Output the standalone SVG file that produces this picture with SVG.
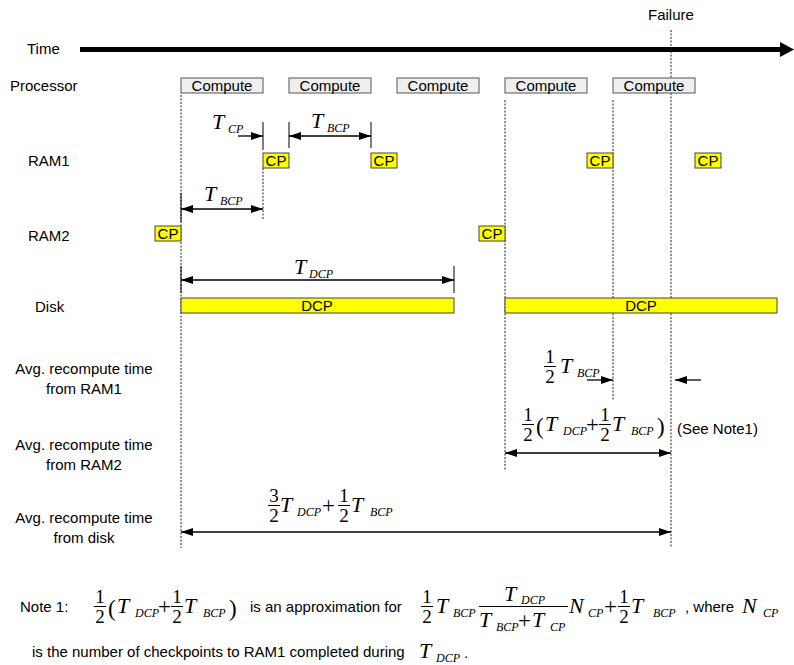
<svg xmlns="http://www.w3.org/2000/svg" width="794" height="665" viewBox="0 0 794 665">
<defs>
<style>
.lbl{font-family:"Liberation Sans",Arial,sans-serif;font-size:15px;fill:#000}
.c{text-anchor:middle}
.m{font-family:"Liberation Serif","Times New Roman",serif;fill:#000}
.T{font-style:italic;font-size:22px}
.s{font-style:italic;font-size:12px}
.d{font-size:19px;text-anchor:middle}
.op{font-size:23px}
.par{font-size:23px}
.fb{stroke:#000;stroke-width:1}
.dash{stroke:#222;stroke-width:1;stroke-dasharray:2 1.5;fill:none}
.tick{stroke:#000;stroke-width:1;fill:none}
.arr{stroke:#000;stroke-width:1.3;fill:none}
.cmp{fill:#efefef;stroke:#555;stroke-width:1}
.y{fill:#ffff00;stroke:#444;stroke-width:1}
</style>
<marker id="ah" viewBox="0 0 12 8" refX="12" refY="4" markerWidth="12" markerHeight="8" markerUnits="userSpaceOnUse" orient="auto-start-reverse">
<path d="M0,0 L12,4 L0,8 z" fill="#000"/>
</marker>
</defs>
<rect width="794" height="665" fill="#fff"/>

<!-- Row labels -->
<g id="labels">
<text class="lbl" x="27" y="54" font-size="16">Time</text>
<text class="lbl" x="648" y="20">Failure</text>
<text class="lbl" x="10" y="91">Processor</text>
<text class="lbl" x="28" y="166">RAM1</text>
<text class="lbl" x="28" y="241">RAM2</text>
<text class="lbl" x="35" y="312">Disk</text>
<text class="lbl c" x="84" y="374">Avg. recompute time</text>
<text class="lbl c" x="84" y="394">from RAM1</text>
<text class="lbl c" x="84" y="450">Avg. recompute time</text>
<text class="lbl c" x="84" y="470">from RAM2</text>
<text class="lbl c" x="84" y="523">Avg. recompute time</text>
<text class="lbl c" x="84" y="543">from disk</text>
</g>

<!-- Connectors -->
<g id="connectors">
<line x1="80" y1="49.5" x2="782" y2="49.5" stroke="#000" stroke-width="5"/>
<polygon points="780,42 794,49.5 780,57" fill="#000"/>
<line class="dash" x1="181" y1="95" x2="181" y2="548"/>
<line class="dash" x1="263" y1="168" x2="263" y2="220"/>
<line class="dash" x1="505" y1="100" x2="505" y2="470"/>
<line class="dash" x1="613" y1="100" x2="613" y2="400"/>
<line class="dash" x1="671" y1="30" x2="671" y2="548"/>
<line class="tick" x1="263" y1="122" x2="263" y2="150"/>
<line class="tick" x1="289" y1="122" x2="289" y2="148"/>
<line class="tick" x1="371" y1="122" x2="371" y2="148"/>
<line class="tick" x1="181" y1="193" x2="181" y2="222"/>
<line class="tick" x1="181" y1="266" x2="181" y2="293"/>
<line class="tick" x1="454" y1="266" x2="454" y2="293"/>
<line class="arr" x1="238" y1="136" x2="263" y2="136" marker-end="url(#ah)"/>
<line class="arr" x1="289" y1="136" x2="371" y2="136" marker-start="url(#ah)" marker-end="url(#ah)"/>
<line class="arr" x1="181" y1="209" x2="263" y2="209" marker-start="url(#ah)" marker-end="url(#ah)"/>
<line class="arr" x1="181" y1="280" x2="454" y2="280" marker-start="url(#ah)" marker-end="url(#ah)"/>
<line class="arr" x1="587" y1="380" x2="613" y2="380" marker-end="url(#ah)"/>
<line class="arr" x1="701" y1="380" x2="675" y2="380" marker-end="url(#ah)"/>
<line class="arr" x1="505" y1="453" x2="671" y2="453" marker-start="url(#ah)" marker-end="url(#ah)"/>
<line class="arr" x1="181" y1="532" x2="671" y2="532" marker-start="url(#ah)" marker-end="url(#ah)"/>
</g>

<!-- Processor compute blocks -->
<g id="compute1"><rect class="cmp" x="181" y="78" width="82" height="15"/><text class="lbl c" x="222" y="91">Compute</text></g>
<g id="compute2"><rect class="cmp" x="289" y="78" width="82" height="15"/><text class="lbl c" x="330" y="91">Compute</text></g>
<g id="compute3"><rect class="cmp" x="397" y="78" width="82" height="15"/><text class="lbl c" x="438" y="91">Compute</text></g>
<g id="compute4"><rect class="cmp" x="505" y="78" width="82" height="15"/><text class="lbl c" x="546" y="91">Compute</text></g>
<g id="compute5"><rect class="cmp" x="613" y="78" width="82" height="15"/><text class="lbl c" x="654" y="91">Compute</text></g>

<!-- RAM1 checkpoints -->
<g id="ram1cp1"><rect class="y" x="263" y="153" width="26" height="15"/><text class="lbl c" x="276" y="166">CP</text></g>
<g id="ram1cp2"><rect class="y" x="371" y="153" width="26" height="15"/><text class="lbl c" x="384" y="166">CP</text></g>
<g id="ram1cp3"><rect class="y" x="587" y="153" width="26" height="15"/><text class="lbl c" x="600" y="166">CP</text></g>
<g id="ram1cp4"><rect class="y" x="695" y="153" width="26" height="15"/><text class="lbl c" x="708" y="166">CP</text></g>

<!-- RAM2 checkpoints -->
<g id="ram2cp1"><rect class="y" x="155" y="226" width="26" height="15"/><text class="lbl c" x="168" y="239">CP</text></g>
<g id="ram2cp2"><rect class="y" x="479" y="226" width="26" height="15"/><text class="lbl c" x="492" y="239">CP</text></g>

<!-- Disk checkpoints -->
<g id="dcp1"><rect class="y" x="181" y="298" width="273" height="15"/><text class="lbl c" x="317" y="311">DCP</text></g>
<g id="dcp2"><rect class="y" x="505" y="298" width="272" height="15"/><text class="lbl c" x="641" y="311">DCP</text></g>

<!-- Interval labels -->
<g id="label-tcp"><text class="m T" x="212" y="129">T</text><text class="m s" x="228" y="133">CP</text></g>
<g id="label-tbcp1"><text class="m T" x="311" y="128">T</text><text class="m s" x="327" y="132">BCP</text></g>
<g id="label-tbcp2"><text class="m T" x="204" y="201">T</text><text class="m s" x="220" y="205">BCP</text></g>
<g id="label-tdcp"><text class="m T" x="294" y="274">T</text><text class="m s" x="309" y="278">DCP</text></g>

<!-- Recompute formulas -->
<g id="f-ram1">
<text class="m d" x="550" y="363">1</text><line class="fb" x1="544" y1="366.5" x2="556" y2="366.5"/><text class="m d" x="550" y="382.5">2</text>
<text class="m T" x="560" y="373">T</text><text class="m s" x="577" y="377">BCP</text>
</g>
<g id="f-ram2">
<text class="m d" x="528" y="421">1</text><line class="fb" x1="522" y1="424.5" x2="534" y2="424.5"/><text class="m d" x="528" y="440.5">2</text>
<text class="m par" x="536" y="434">(</text>
<text class="m T" x="545" y="431">T</text><text class="m s" x="563" y="435">DCP</text>
<text class="m op" x="586" y="432">+</text>
<text class="m d" x="605" y="421">1</text><line class="fb" x1="599" y1="424.5" x2="611" y2="424.5"/><text class="m d" x="605" y="440.5">2</text>
<text class="m T" x="612" y="431">T</text><text class="m s" x="631" y="435">BCP</text>
<text class="m par" x="657" y="434">)</text>
<text class="lbl" x="677" y="434">(See Note1)</text>
</g>
<g id="f-disk">
<text class="m d" x="274" y="502">3</text><line class="fb" x1="268" y1="505.5" x2="280" y2="505.5"/><text class="m d" x="274" y="521.5">2</text>
<text class="m T" x="280" y="512">T</text><text class="m s" x="297" y="516">DCP</text>
<text class="m op" x="322" y="513">+</text>
<text class="m d" x="344" y="502">1</text><line class="fb" x1="338" y1="505.5" x2="350" y2="505.5"/><text class="m d" x="344" y="521.5">2</text>
<text class="m T" x="351" y="512">T</text><text class="m s" x="370" y="516">BCP</text>
</g>

<!-- Note -->
<g id="note">
<text class="lbl" x="20" y="612">Note 1:</text>
<text class="m d" x="100" y="603">1</text><line class="fb" x1="94" y1="606.5" x2="106" y2="606.5"/><text class="m d" x="100" y="622.5">2</text>
<text class="m par" x="108" y="616">(</text>
<text class="m T" x="117" y="613">T</text><text class="m s" x="135" y="617">DCP</text>
<text class="m op" x="158" y="614">+</text>
<text class="m d" x="177" y="603">1</text><line class="fb" x1="171" y1="606.5" x2="183" y2="606.5"/><text class="m d" x="177" y="622.5">2</text>
<text class="m T" x="184" y="613">T</text><text class="m s" x="203" y="617">BCP</text>
<text class="m par" x="229" y="616">)</text>
<text class="lbl" x="250" y="612">is an approximation for</text>
<text class="m d" x="427" y="603">1</text><line class="fb" x1="421" y1="606.5" x2="433" y2="606.5"/><text class="m d" x="427" y="622.5">2</text>
<text class="m T" x="436" y="613">T</text><text class="m s" x="453" y="617">BCP</text>
<text class="m T" x="504" y="601">T</text><text class="m s" x="521" y="604">DCP</text>
<line class="fb" x1="479" y1="606.5" x2="568" y2="606.5"/>
<text class="m T" x="479" y="627">T</text><text class="m s" x="496" y="631">BCP</text>
<text class="m op" x="518" y="628">+</text>
<text class="m T" x="532" y="627">T</text><text class="m s" x="550" y="631">CP</text>
<text class="m T" x="569" y="613">N</text><text class="m s" x="588" y="617">CP</text>
<text class="m op" x="604" y="614">+</text>
<text class="m d" x="624" y="603">1</text><line class="fb" x1="618" y1="606.5" x2="630" y2="606.5"/><text class="m d" x="624" y="622.5">2</text>
<text class="m T" x="631" y="613">T</text><text class="m s" x="653" y="617">BCP</text>
<text class="lbl" x="685" y="612">, where</text>
<text class="m T" x="742" y="613">N</text><text class="m s" x="763" y="617">CP</text>
<text class="lbl" x="32" y="657">is the number of checkpoints to RAM1 completed during</text>
<text class="m T" x="419" y="658">T</text><text class="m s" x="436" y="662">DCP</text>
<text class="lbl" x="464" y="658">.</text>
</g>
</svg>
